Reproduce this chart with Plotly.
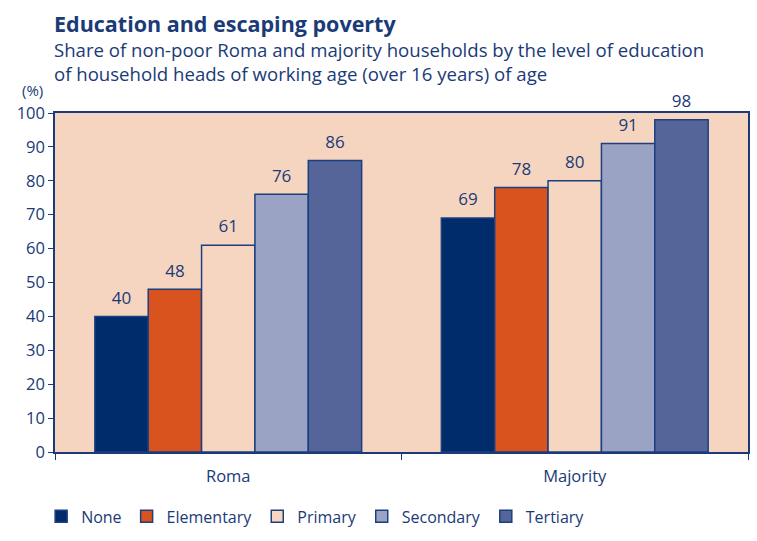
import plotly.graph_objects as go

groups = ["Roma", "Majority"]
levels = ["None", "Elementary", "Primary", "Secondary", "Tertiary"]
none_vals = [40, 69]
elementary_vals = [48, 78]
primary_vals = [61, 80]
secondary_vals = [76, 91]
tertiary_vals = [86, 98]
y_ticks = [0, 10, 20, 30, 40, 50, 60, 70, 80, 90, 100]

series = {
    "None": none_vals,
    "Elementary": elementary_vals,
    "Primary": primary_vals,
    "Secondary": secondary_vals,
    "Tertiary": tertiary_vals,
}
colors = {
    "None": "#002c6b",
    "Elementary": "#d9531e",
    "Primary": "#f6d6c1",
    "Secondary": "#9ba3c4",
    "Tertiary": "#566599",
}
navy = "#1a3a78"
font_family = "Open Sans, Noto Sans, sans-serif"
GAP = 0.23

fig = go.Figure()
for lvl in levels:
    vals = series[lvl]
    fig.add_trace(go.Bar(
        name=lvl,
        x=groups,
        y=vals,
        offsetgroup=lvl,
        marker=dict(color=colors[lvl], line=dict(color="#1c3f80", width=1.5)),
    ))

# value labels, grouped the same way as the bars so each sits over its bar;
# an invisible marker sets the spacing between bar top and number
for lvl in levels:
    vals = series[lvl]
    fig.add_trace(go.Scatter(
        x=groups,
        y=vals,
        offsetgroup=lvl,
        mode="markers+text",
        text=[str(v) for v in vals],
        textposition="top center",
        textfont=dict(size=17, color=navy, family=font_family),
        marker=dict(size=12, color="rgba(0,0,0,0)"),
        cliponaxis=False,
        showlegend=False,
        hoverinfo="skip",
    ))

fig.update_layout(
    width=757, height=541,
    margin=dict(l=55, r=7, t=113, b=88),
    barmode="group",
    bargap=GAP,
    bargroupgap=0,
    scattermode="group",
    scattergap=GAP,
    paper_bgcolor="white",
    plot_bgcolor="#f5d5bf",
    font=dict(family=font_family, color=navy, size=16),
    showlegend=True,
    legend=dict(
        orientation="h", x=-0.02, y=-0.14, xanchor="left", yanchor="top",
        font=dict(size=16, color=navy, family=font_family),
        traceorder="normal", itemwidth=30,
    ),
)
fig.add_annotation(text="<b>Education and escaping poverty</b>",
                   xref="paper", yref="paper", x=-0.004, y=1 + (113 - 7) / 340,
                   xanchor="left", yanchor="top", showarrow=False,
                   font=dict(size=21.5, color=navy, family=font_family))
fig.add_annotation(text="Share of non-poor Roma and majority households by the level of education<br>"
                        "of household heads of working age (over 16 years) of age",
                   xref="paper", yref="paper", x=-0.004, y=1 + (113 - 35) / 340,
                   xanchor="left", yanchor="top", showarrow=False, align="left",
                   font=dict(size=18.6, color=navy, family=font_family))
fig.add_annotation(text="(%)", xref="paper", yref="paper",
                   x=-0.05, y=1 + (113 - 78) / 340, xanchor="left", yanchor="top",
                   showarrow=False, font=dict(size=15, color=navy, family=font_family))

fig.update_yaxes(
    range=[0, 100], tickvals=y_ticks, ticks="outside", ticklen=5,
    tickcolor=navy, showgrid=False, zeroline=False,
    showline=True, linecolor=navy, linewidth=1.5, mirror=True,
    tickfont=dict(size=16.5, color=navy), fixedrange=True,
)
fig.update_xaxes(
    ticks="outside", tickson="boundaries", ticklen=6, tickcolor=navy,
    showline=True, linecolor=navy, linewidth=1.5, mirror=True,
    ticklabelstandoff=8,
    tickfont=dict(size=16.5, color=navy), showgrid=False,
)

fig.write_html("out.html")
